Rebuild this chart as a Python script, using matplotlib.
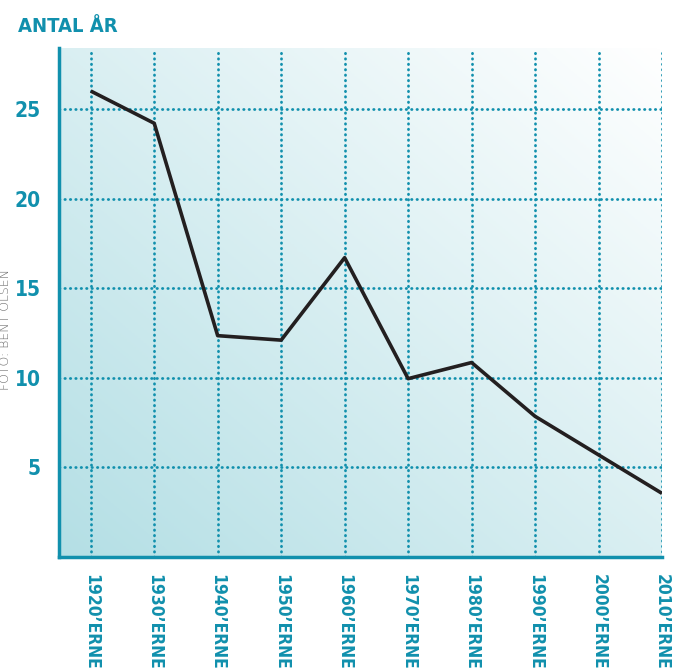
import matplotlib
matplotlib.use("Agg")
import matplotlib.pyplot as plt
import numpy as np
from matplotlib.colors import LinearSegmentedColormap

decades = ["1920’ERNE", "1930’ERNE", "1940’ERNE", "1950’ERNE", "1960’ERNE",
           "1970’ERNE", "1980’ERNE", "1990’ERNE", "2000’ERNE", "2010’ERNE"]
years = [26.0, 24.2, 12.35, 12.1, 16.7, 9.95, 10.85, 7.85, 5.7, 3.55]
yticks = [5, 10, 15, 20, 25]

TEAL = "#1190ad"
fam = ["DejaVu Sans"]

fig = plt.figure(figsize=(6.85, 6.69), dpi=100)
ax = fig.add_axes([59/685, 1-557/669, (662-59)/685, (557-48)/669])

x = np.arange(len(decades))
xlim = (-0.5, len(decades) - 1)
ylim = (0, 28.4)

gx, gy = np.meshgrid(np.linspace(0, 1, 200), np.linspace(0, 1, 200))
cmap = LinearSegmentedColormap.from_list("bg", ["#ffffff", "#b4dfe5"])
vals = ((1 - gx) + (1 - gy)) / 2.0
ax.imshow(vals, cmap=cmap, origin="lower", extent=(xlim[0], xlim[1], ylim[0], ylim[1]),
          aspect="auto", zorder=0, vmin=0, vmax=1)

dots = (0, (0.15, 1.8))
for xi in x:
    ax.axvline(xi, color=TEAL, linestyle=dots, linewidth=2.0, dash_capstyle="round", zorder=1)
for yv in yticks:
    ax.axhline(yv, color=TEAL, linestyle=dots, linewidth=2.0, dash_capstyle="round", zorder=1)

ax.plot(x, years, color="#231f20", linewidth=2.6, zorder=3, solid_capstyle="butt")

ax.set_xlim(*xlim)
ax.set_ylim(*ylim)
ax.set_xticks(x)
ax.set_xticklabels(decades, rotation=270, fontsize=12.5, fontweight="bold",
                   color=TEAL, family=fam, fontstretch="condensed", va="top", ha="center")
ax.set_yticks(yticks)
ax.set_yticklabels([str(v) for v in yticks], fontsize=15, fontweight="bold",
                   color=TEAL, family=fam, fontstretch="condensed")
ax.tick_params(axis="both", length=0)
ax.tick_params(axis="x", pad=12)
ax.tick_params(axis="y", pad=13)

for s in ["top", "right"]:
    ax.spines[s].set_visible(False)
for s in ["left", "bottom"]:
    ax.spines[s].set_color(TEAL)
    ax.spines[s].set_linewidth(2.5)

fig.text(18/685, 1-27/669, "ANTAL ÅR", fontsize=14.5, fontweight="bold",
         color=TEAL, family=fam, fontstretch="condensed", va="center", ha="left")
fig.text(5/685, 1-330/669, "FOTO: BENT OLSEN", fontsize=9, color="#6a6a6a",
         rotation=90, va="center", ha="center", family=["DejaVu Sans"], fontweight="light")

fig.savefig("out.png", dpi=100)
